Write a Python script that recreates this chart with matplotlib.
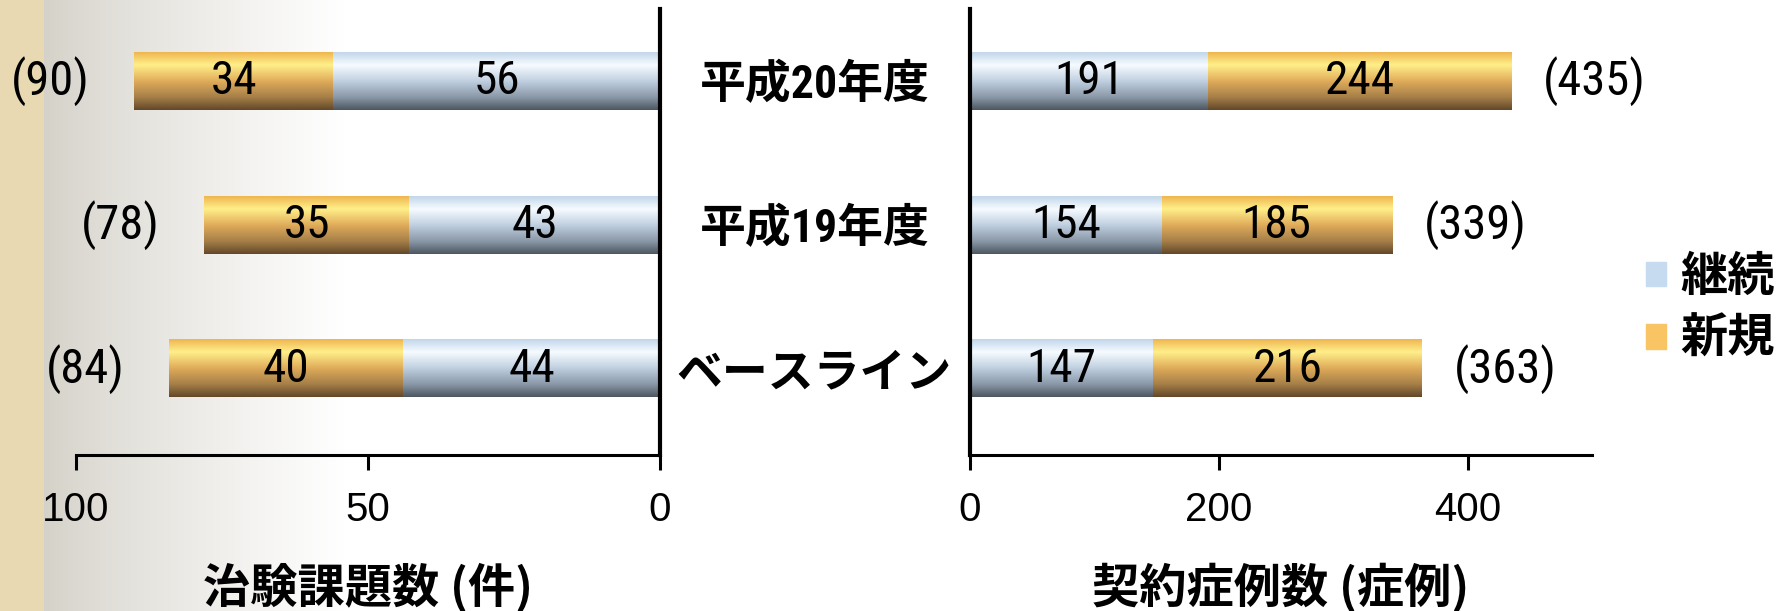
import numpy as np
import matplotlib
matplotlib.use('Agg')
import matplotlib.pyplot as plt
from matplotlib.colors import LinearSegmentedColormap, to_rgb
from matplotlib.patches import Patch

# Data, listed bottom to top
categories = ['ベースライン', '平成19年度', '平成20年度']
series_names = ['継続', '新規']
trial_cont = [44, 43, 56]    # 治験課題数 継続
trial_new = [40, 35, 34]     # 治験課題数 新規
case_cont = [147, 154, 191]  # 契約症例数 継続
case_new = [216, 185, 244]   # 契約症例数 新規
left_ticks = [0, 50, 100]
right_ticks = [0, 200, 400]
left_xlabel = '治験課題数 (件)'
right_xlabel = '契約症例数 (症例)'

NUM_FONT = ['Roboto Condensed', 'Noto Sans CJK JP', 'DejaVu Sans']
TICK_FONT = ['Liberation Sans', 'DejaVu Sans']
JP_FONT = ['Noto Sans CJK JP', 'DejaVu Sans']
plt.rcParams['font.family'] = NUM_FONT

blue_flat = '#C6DBEF'
orange_flat = '#F9C463'
# vertical shading used inside the bars (top -> bottom)
blue_cmap = LinearSegmentedColormap.from_list(
    'blue_bar', [(0, '#C2D6EA'), (0.22, '#F6FBFF'), (0.5, '#C0D0E0'),
                 (0.78, '#8A98A8'), (1, '#4D5761')])
orange_cmap = LinearSegmentedColormap.from_list(
    'orange_bar', [(0, '#EFB650'), (0.22, '#FFEF8A'), (0.5, '#E0AC5A'),
                   (0.78, '#A67F48'), (1, '#634829')])

fig = plt.figure(figsize=(17.89, 6.11), dpi=100)

# Background: parchment strip on the left then a grey-to-white fade
bg = fig.add_axes([0, 0, 1, 1], zorder=-10)
bg.set_axis_off()
W = 1789
px = np.arange(W)
beige = np.array(to_rgb('#E9D9B2'))
grey = np.array(to_rgb('#D4D1C8'))
t = np.clip((px - 44) / 300.0, 0, 1) ** 0.8
row = grey[None, :] + (1 - grey[None, :]) * t[:, None]
row[px < 44] = beige
bg.imshow(row[None, :, :], extent=(0, 1, 0, 1), aspect='auto')
bg.set_xlim(0, 1)
bg.set_ylim(0, 1)

ax_l = fig.add_axes([76 / 1789, 0.2553, 584 / 1789, 0.730])
ax_r = fig.add_axes([970 / 1789, 0.2553, 622 / 1789, 0.730])
for ax in (ax_l, ax_r):
    ax.set_facecolor('none')

y = np.arange(len(categories))
bar_h = 0.4


def shade_bars(ax, container, cmap):
    """Paint a vertical gradient over every bar of a container"""
    grad = np.linspace(0, 1, 128).reshape(-1, 1)
    for p in container.patches:
        x0, y0 = p.get_x(), p.get_y()
        ax.imshow(grad, cmap=cmap, origin='upper', aspect='auto',
                  extent=(x0, x0 + p.get_width(), y0, y0 + p.get_height()),
                  zorder=2, interpolation='bilinear')


def draw_panel(ax, cont, new):
    c1 = ax.barh(y, cont, height=bar_h, color=blue_flat)
    c2 = ax.barh(y, new, left=cont, height=bar_h, color=orange_flat)
    shade_bars(ax, c1, blue_cmap)
    shade_bars(ax, c2, orange_cmap)
    ax.bar_label(c1, label_type='center', fontsize=34, zorder=4)
    ax.bar_label(c2, label_type='center', fontsize=34, zorder=4)
    return c1, c2


# Left panel: trials, drawn leftwards
draw_panel(ax_l, trial_cont, trial_new)
for yi, c, n in zip(y, trial_cont, trial_new):
    ax_l.annotate(f'({c + n})', xy=(c + n, yi), xytext=(-32, 0),
                  textcoords='offset points', ha='right', va='center',
                  fontsize=35)
ax_l.set_xlim(100, 0)
ax_l.set_ylim(-0.6, 2.5)
ax_l.set_xticks(left_ticks)
ax_l.set_yticks([])
for s in ('left', 'top'):
    ax_l.spines[s].set_visible(False)
ax_l.spines['right'].set_linewidth(3)
ax_l.spines['bottom'].set_linewidth(2.2)

# Right panel: contracted cases
draw_panel(ax_r, case_cont, case_new)
for yi, c, n in zip(y, case_cont, case_new):
    ax_r.annotate(f'({c + n})', xy=(c + n, yi), xytext=(23, 0),
                  textcoords='offset points', ha='left', va='center',
                  fontsize=35)
ax_r.set_xlim(0, 500)
ax_r.set_ylim(-0.6, 2.5)
ax_r.set_xticks(right_ticks)
ax_r.set_yticks(y, categories, fontsize=33, family=NUM_FONT[:2],
                fontweight='bold')
for lab in ax_r.get_yticklabels():
    lab.set_horizontalalignment('center')
ax_r.tick_params(axis='y', length=0, pad=112)
for s in ('right', 'top'):
    ax_r.spines[s].set_visible(False)
ax_r.spines['left'].set_linewidth(3)
ax_r.spines['bottom'].set_linewidth(2.2)

for ax in (ax_l, ax_r):
    ax.tick_params(axis='x', direction='out', length=11, width=2.2,
                   pad=15, labelsize=29)
    for lab in ax.get_xticklabels():
        lab.set_family(TICK_FONT)

ax_l.set_xlabel(left_xlabel, fontsize=34, family=JP_FONT, fontweight='bold',
                labelpad=24)
ax_r.set_xlabel(right_xlabel, fontsize=34, family=JP_FONT, fontweight='bold',
                labelpad=24)

# Legend
handles = [Patch(color=blue_flat), Patch(color=orange_flat)]
fig.legend(handles, series_names, loc='center left',
           bbox_to_anchor=(1646 / 1789, 0.496), frameon=False,
           prop={'family': JP_FONT, 'weight': 'bold', 'size': 34},
           handlelength=0.43, handleheight=0.43, handletextpad=0.3,
           labelspacing=0.3, borderpad=0, borderaxespad=0)

fig.savefig('out.png', dpi=100)
